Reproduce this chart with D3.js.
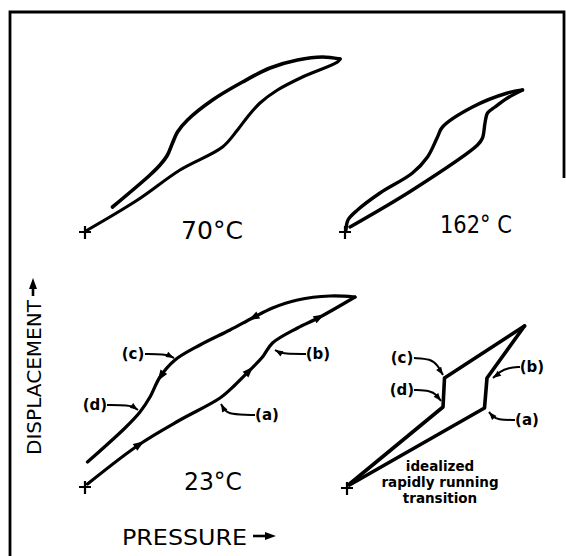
<!DOCTYPE html>
<html>
<head>
<meta charset="utf-8">
<script src="https://cdn.jsdelivr.net/npm/d3@7"></script>
<style>
  html, body { margin: 0; padding: 0; background: #fff; }
  svg { display: block; }
  text { font-family: "DejaVu Sans", sans-serif; fill: #000; }
</style>
</head>
<body>
<svg id="chart" width="566" height="556"></svg>
<script>
// values, in arbitrary pressure / displacement units
// (0,0) is the "+" of each panel
const loop70Loading = [[1, 1], [21, 16], [38, 31], [55, 42.5], [61, 51], [65, 57.5], [70, 64.5], [77, 71], [87, 77.5], [101, 85], [102, 86.5]];
const loop70Unloading = [[102, 86.5], [95, 87.5], [85, 86], [74, 82], [63, 75], [51, 66], [41, 56], [37, 50], [35, 44.5], [33, 38.5], [30, 33.5], [26, 28.5], [11, 12.5]];

const loop162Loading = [[2, 2.5], [27, 21], [53, 43.5], [55, 47], [56, 54.5], [57, 59.5], [60, 62.5], [65, 67], [71, 71]];
const loop162Unloading = [[71, 71], [65, 69.5], [51, 62.5], [39, 52.5], [37, 47.5], [33, 37.5], [27, 29.5], [14, 19.5], [5, 11], [1.2, 6], [0.4, 1]];

const loop23Loading = [[1, 1.5], [22, 21.5], [38, 33.5], [54, 44.5], [60, 51], [66, 58.5], [71, 65], [75, 72], [85, 79.5], [94, 85], [108, 95]];
const loop23Unloading = [[108, 95], [98, 95.5], [85, 93.5], [75, 89.5], [67, 84.5], [58, 78.5], [46, 71], [36, 63.5], [30, 55], [26, 45], [22, 37.5], [16, 29.5], [1, 12.5]];
// direction marks on the 23°C loop: [pressure, displacement]
const arrows23Loading = [[22, 21.5], [66, 58.5], [94, 85]];
const arrows23Unloading = [[67, 84.5], [30, 55]];

const idealLoading = [[1, 1.5], [55, 40], [56, 55], [71, 81]];
const idealUnloading = [[71, 81], [39, 55], [38.4, 40.5], [1, 2]];

const calloutLabels = ["(a)", "(b)", "(c)", "(d)"];
const callout23Targets = [[54, 44], [75.6, 71], [36.4, 63.5], [22, 38]];
const calloutIdealTargets = [[56.4, 39.5], [57.6, 55.5], [38.8, 56], [38, 43]];

const tempLabels = ["70°C", "162° C", "23°C"];
const idealText = ["idealized", "rapidly running", "transition"];

const svg = d3.select("#chart");

// frame
svg.append("path")
    .attr("d", "M10,556 V12 H564 V178")
    .attr("fill", "none")
    .attr("stroke", "#000")
    .attr("stroke-width", 2.8);

function makeScales(ox, oy) {
  return {
    x: d3.scaleLinear().domain([0, 100]).range([ox, ox + 250]),
    y: d3.scaleLinear().domain([0, 100]).range([oy, oy - 200])
  };
}

const s70 = makeScales(85, 232);
const s162 = makeScales(345, 232);
const s23 = makeScales(85, 487);
const sIdeal = makeScales(347, 488);

function drawCurve(s, data, curve, width) {
  const line = d3.line()
      .x(d => s.x(d[0]))
      .y(d => s.y(d[1]))
      .curve(curve);
  return svg.append("path")
      .datum(data)
      .attr("d", line)
      .attr("fill", "none")
      .attr("stroke", "#000")
      .attr("stroke-width", width)
      .attr("stroke-linecap", "round")
      .attr("stroke-linejoin", "round");
}

function drawCross(s) {
  const cx = s.x(0), cy = s.y(0);
  svg.append("path")
      .attr("d", `M${cx - 6},${cy} H${cx + 6} M${cx},${cy - 6} V${cy + 7}`)
      .attr("stroke", "#000")
      .attr("stroke-width", 2.2);
}

function arrowHead(x, y, angle, len, wid) {
  const a = angle * Math.PI / 180;
  const bx = x - len * Math.cos(a), by = y - len * Math.sin(a);
  const nx = -Math.sin(a) * wid / 2, ny = Math.cos(a) * wid / 2;
  svg.append("path")
      .attr("d", `M${x},${y} L${bx + nx},${by + ny} L${bx - nx},${by - ny} Z`)
      .attr("fill", "#000");
}

// direction arrows placed on the drawn path near each mark
function drawDirectionArrows(pathSel, s, marks) {
  const node = pathSel.node();
  const total = node.getTotalLength();
  marks.forEach(m => {
    const px = s.x(m[0]), py = s.y(m[1]);
    let best = 0, bestD = Infinity;
    for (let l = 0; l <= total; l += 1) {
      const p = node.getPointAtLength(l);
      const dd = (p.x - px) ** 2 + (p.y - py) ** 2;
      if (dd < bestD) { bestD = dd; best = l; }
    }
    const p0 = node.getPointAtLength(Math.max(0, best - 2));
    const p1 = node.getPointAtLength(Math.min(total, best + 2));
    const ang = Math.atan2(p1.y - p0.y, p1.x - p0.x) * 180 / Math.PI;
    const tip = node.getPointAtLength(Math.min(total, best + 5));
    arrowHead(tip.x, tip.y, ang, 11, 8);
  });
}

function drawCallouts(s, targets, offsets) {
  targets.forEach((t, i) => {
    const o = offsets[i];
    const tx = s.x(t[0]) + o.gx, ty = s.y(t[1]) + o.gy;
    const lx = s.x(t[0]) + o.dx, ly = s.y(t[1]) + o.dy;
    const side = o.dx > 0 ? 1 : -1;
    const p0 = [lx - side * 12, ly];
    const p1 = [s.x(t[0]) + side * o.bend, ly];
    svg.append("path")
        .attr("d", d3.line().curve(d3.curveBundle.beta(0.85))([p0, p1, [p1[0] + (tx - p1[0]) * 0.6, p1[1] + (ty - p1[1]) * 0.4], [tx, ty]]))
        .attr("fill", "none")
        .attr("stroke", "#000")
        .attr("stroke-width", 2);
    const ang = Math.atan2(ty - p1[1], tx - p1[0]) * 180 / Math.PI;
    arrowHead(tx, ty, ang, 8, 6);
    svg.append("text")
        .attr("x", lx)
        .attr("y", ly)
        .attr("dy", "0.36em")
        .attr("text-anchor", "middle")
        .attr("font-size", 15)
        .attr("font-weight", "bold")
        .text(calloutLabels[i]);
  });
}

// 70 C
drawCurve(s70, loop70Loading, d3.curveCatmullRom, 3.1);
drawCurve(s70, loop70Unloading, d3.curveCatmullRom, 3.6);
drawCross(s70);

// 162 C
drawCurve(s162, loop162Loading, d3.curveCatmullRom, 3.4);
drawCurve(s162, loop162Unloading, d3.curveCatmullRom, 3.4);
drawCross(s162);

// 23 C
const p23a = drawCurve(s23, loop23Loading, d3.curveCatmullRom, 3.2);
const p23b = drawCurve(s23, loop23Unloading, d3.curveCatmullRom, 3.2);
drawCross(s23);
drawDirectionArrows(p23a, s23, arrows23Loading);
drawDirectionArrows(p23b, s23, arrows23Unloading);

drawCallouts(s23, callout23Targets, [
  { dx: 47, dy: 16, bend: 7, gx: 1, gy: 5 },
  { dx: 44, dy: 9, bend: 8, gx: 1, gy: 5 },
  { dx: -43, dy: -6, bend: 10, gx: -2, gy: -2 },
  { dx: -45, dy: -6, bend: 9, gx: -2, gy: -1 }
]);

// idealized
drawCurve(sIdeal, idealLoading, d3.curveLinear, 3.6);
drawCurve(sIdeal, idealUnloading, d3.curveLinear, 3.6);
drawCross(sIdeal);

drawCallouts(sIdeal, calloutIdealTargets, [
  { dx: 39, dy: 11, bend: 8, gx: 1, gy: 3 },
  { dx: 41, dy: -10, bend: 17, gx: 2, gy: 1 },
  { dx: -42, dy: -18, bend: 12, gx: -1, gy: -1 },
  { dx: -40, dy: -12, bend: 10, gx: -1, gy: -1 }
]);

// temperature labels
const tempPos = [[212, 239, 62], [476, 233, 72], [213, 490, 58]];
tempLabels.forEach((t, i) => {
  svg.append("text")
      .attr("x", tempPos[i][0])
      .attr("y", tempPos[i][1])
      .attr("text-anchor", "middle")
      .attr("font-size", 24)
      .attr("textLength", tempPos[i][2])
      .attr("lengthAdjust", "spacingAndGlyphs")
      .text(t);
});

idealText.forEach((t, i) => {
  svg.append("text")
      .attr("x", 440)
      .attr("y", 471 + i * 16)
      .attr("text-anchor", "middle")
      .attr("font-size", 13.5)
      .attr("font-weight", "bold")
      .text(t);
});

// axis titles
svg.append("text")
    .attr("x", 122)
    .attr("y", 545)
    .attr("font-size", 22)
    .attr("textLength", 125)
    .attr("lengthAdjust", "spacingAndGlyphs")
    .text("PRESSURE");
svg.append("path").attr("d", "M253,536 H266").attr("stroke", "#000").attr("stroke-width", 2.6);
arrowHead(276, 536, 0, 11, 8);

svg.append("text")
    .attr("transform", "translate(41,455) rotate(-90)")
    .attr("font-size", 20)
    .attr("textLength", 155)
    .attr("lengthAdjust", "spacingAndGlyphs")
    .text("DISPLACEMENT");
svg.append("path").attr("d", "M33,296 V287").attr("stroke", "#000").attr("stroke-width", 2.6);
arrowHead(33, 278, -90, 11, 8);
</script>
</body>
</html>
